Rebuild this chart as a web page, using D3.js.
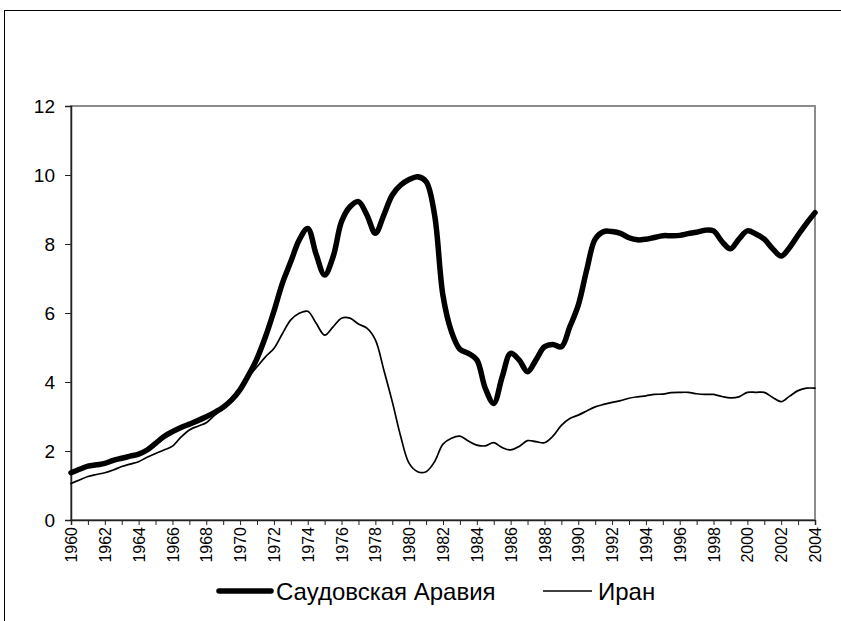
<!DOCTYPE html>
<html>
<head>
<meta charset="utf-8">
<script src="https://cdn.jsdelivr.net/npm/d3@7"></script>
<style>
  body { margin: 0; background: #fff; }
  svg { display: block; font-family: "Liberation Sans", Arial, sans-serif; }
</style>
</head>
<body>
<div id="chart"></div>
<script>
// Полугодовые точки, 1960 - 2004
const periods = d3.range(1960, 2004.01, 0.5);

// Саудовская Аравия (readings every half year)
const saudiValues = [
  1.37, 1.47, 1.56, 1.60, 1.64, 1.73, 1.79, 1.85, 1.91, 2.03, // 1960-1964.5
  2.22, 2.42, 2.56, 2.68, 2.78, 2.88, 2.99, 3.12, 3.27, 3.48, // 1965-1969.5
  3.78, 4.20, 4.68, 5.31, 6.05, 6.86, 7.49, 8.12, 8.45, 7.70, // 1970-1974.5
  7.10, 7.63, 8.65, 9.08, 9.23, 8.84, 8.31, 8.84, 9.42, 9.71, // 1975-1979.5
  9.87, 9.95, 9.81, 8.85, 6.50, 5.46, 4.95, 4.83, 4.64, 3.82, // 1980-1984.5
  3.38, 4.15, 4.83, 4.64, 4.30, 4.64, 5.02, 5.09, 5.02, 5.60, // 1985-1989.5
  6.23, 7.25, 8.14, 8.36, 8.36, 8.31, 8.18, 8.12, 8.14, 8.19, // 1990-1994.5
  8.24, 8.24, 8.25, 8.30, 8.34, 8.40, 8.38, 8.07, 7.86, 8.14, // 1995-1999.5
  8.38, 8.29, 8.14, 7.86, 7.65, 7.90, 8.26, 8.60, 8.91        // 2000-2004
];

// Иран
const iranValues = [
  1.06, 1.16, 1.26, 1.32, 1.37, 1.45, 1.55, 1.62, 1.69, 1.82,
  1.93, 2.03, 2.14, 2.40, 2.61, 2.72, 2.82, 3.04, 3.24, 3.50,
  3.75, 4.15, 4.44, 4.73, 4.97, 5.40, 5.80, 5.99, 6.05, 5.70,
  5.36, 5.60, 5.85, 5.85, 5.68, 5.56, 5.22, 4.35, 3.43, 2.42,
  1.64, 1.40, 1.40, 1.69, 2.20, 2.37, 2.43, 2.29, 2.17, 2.15,
  2.24, 2.10, 2.03, 2.13, 2.30, 2.27, 2.24, 2.43, 2.74, 2.94,
  3.04, 3.16, 3.28, 3.35, 3.41, 3.46, 3.53, 3.57, 3.60, 3.64,
  3.65, 3.69, 3.70, 3.70, 3.66, 3.64, 3.64, 3.58, 3.54, 3.57,
  3.70, 3.70, 3.70, 3.55, 3.43, 3.59, 3.75, 3.82, 3.82
];

const yearTicks = d3.range(1960, 2005, 1);
const yearLabels = ["1960", "1962", "1964", "1966", "1968", "1970", "1972", "1974",
  "1976", "1978", "1980", "1982", "1984", "1986", "1988", "1990", "1992", "1994",
  "1996", "1998", "2000", "2002", "2004"];
const valueTicks = [0, 2, 4, 6, 8, 10, 12];

const seriesNames = ["Саудовская Аравия", "Иран"];
const seriesWidths = [5.5, 1.7];

const width = 841;
const height = 621;
const plot = { left: 71, right: 815, top: 106, bottom: 520 };

const svg = d3.select("#chart")
  .append("svg")
  .attr("width", width)
  .attr("height", height);

// внешняя рамка (уходит за край картинки)
svg.append("rect")
  .attr("x", 4.5)
  .attr("y", 10.5)
  .attr("width", 1000)
  .attr("height", 800)
  .attr("fill", "none")
  .attr("stroke", "#000")
  .attr("stroke-width", 1);

const xScale = d3.scaleLinear()
  .domain([1960, 2004])
  .range([plot.left, plot.right]);

const yScale = d3.scaleLinear()
  .domain([0, 12])
  .range([plot.bottom, plot.top]);

// plot area border
svg.append("rect")
  .attr("x", plot.left)
  .attr("y", plot.top)
  .attr("width", plot.right - plot.left)
  .attr("height", plot.bottom - plot.top)
  .attr("fill", "none")
  .attr("stroke", "#8c8c8c")
  .attr("stroke-width", 2);

// Y axis
const yAxis = svg.append("g")
  .attr("transform", `translate(${plot.left},0)`)
  .call(d3.axisLeft(yScale).tickValues(valueTicks).tickSize(6).tickPadding(10).tickFormat(d3.format("d")));
yAxis.select(".domain").attr("stroke", "#222").attr("stroke-width", 1.5);
yAxis.selectAll(".tick line").attr("stroke", "#222");
yAxis.selectAll("text")
  .style("font-size", "19px")
  .style("font-family", "Liberation Sans, Arial, sans-serif")
  .attr("fill", "#000");

// X axis: ticks every year, labels every two years
const xAxis = svg.append("g")
  .attr("transform", `translate(0,${plot.bottom})`)
  .call(d3.axisBottom(xScale).tickValues(yearTicks).tickSize(5)
    .tickFormat((d) => (yearLabels.includes(String(d)) ? String(d) : "")));
xAxis.select(".domain").attr("stroke", "#222").attr("stroke-width", 1.5);
xAxis.selectAll(".tick line").attr("stroke", "#222");
xAxis.selectAll("text")
  .style("font-size", "16px")
  .style("font-family", "Liberation Sans, Arial, sans-serif")
  .attr("fill", "#000")
  .attr("transform", "rotate(-90)")
  .attr("x", -7)
  .attr("y", 0)
  .attr("dy", "0.35em")
  .style("text-anchor", "end");

const line = d3.line()
  .x((d) => xScale(d.t))
  .y((d) => yScale(d.v))
  .curve(d3.curveCatmullRom.alpha(0.5));

const series = [saudiValues, iranValues].map((vals) =>
  periods.map((t, i) => ({ t: t, v: vals[i] }))
);

// draw Iran first so the thick line sits on top
[1, 0].forEach((k) => {
  svg.append("path")
    .datum(series[k])
    .attr("fill", "none")
    .attr("stroke", "#000")
    .attr("stroke-width", seriesWidths[k])
    .attr("stroke-linejoin", "round")
    .attr("stroke-linecap", "round")
    .attr("d", line);
});

// legend
const legendItems = [
  { x1: 219, x2: 271, tx: 276 },
  { x1: 543, x2: 592, tx: 598 },
];
const legendY = 591;
legendItems.forEach((it, k) => {
  svg.append("line")
    .attr("x1", it.x1)
    .attr("x2", it.x2)
    .attr("y1", legendY)
    .attr("y2", legendY)
    .attr("stroke", "#000")
    .attr("stroke-width", seriesWidths[k])
    .attr("stroke-linecap", k === 0 ? "round" : "butt");
  svg.append("text")
    .attr("x", it.tx)
    .attr("y", legendY)
    .attr("dy", "0.36em")
    .style("font-size", "24px")
    .attr("fill", "#000")
    .text(seriesNames[k]);
});
</script>
</body>
</html>
